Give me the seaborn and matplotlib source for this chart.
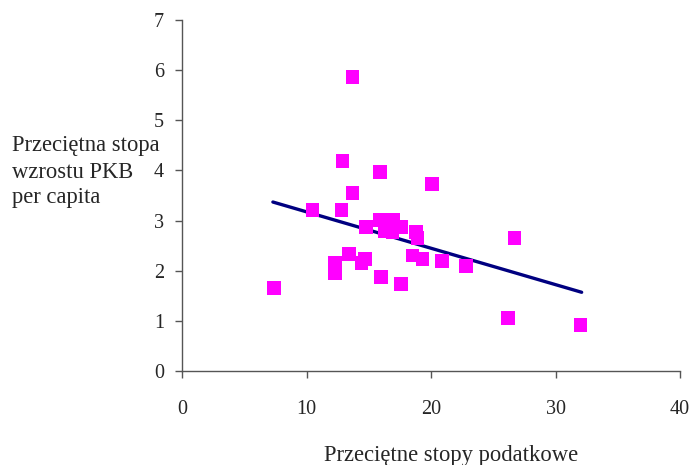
import matplotlib
matplotlib.use("Agg")
import matplotlib.pyplot as plt
import seaborn as sns
import pandas as pd

tax_rate = [7.4, 10.5, 12.8, 12.9, 13.7, 13.7, 15.9, 20.1, 26.7, 26.2, 32.0,
            12.3, 12.3, 13.4, 14.7, 14.4, 16.0, 17.6, 18.5, 19.3, 20.9, 22.8,
            14.8, 15.9, 17.0, 17.6, 16.3, 16.9, 18.8, 18.9]
gdp_growth = [1.66, 3.21, 3.21, 4.19, 3.55, 5.86, 3.97, 3.73, 2.65, 1.06, 0.92,
              2.15, 1.95, 2.33, 2.23, 2.15, 1.87, 1.73, 2.30, 2.23, 2.19, 2.09,
              2.87, 3.01, 3.01, 2.87, 2.79, 2.77, 2.77, 2.65]
trend_x = [7.3, 32.1]
trend_y = [3.37, 1.57]
x_ticks = [0, 10, 20, 30, 40]
y_ticks = [0, 1, 2, 3, 4, 5, 6, 7]
y_label_lines = ["Przeciętna stopa", "wzrostu PKB", "per capita"]

sns.set_style("white")
plt.rcParams['font.family'] = ['Liberation Serif', 'DejaVu Serif']

fig = plt.figure(figsize=(6.93, 4.65), dpi=100)
ax = fig.add_axes([182/693, 1 - 371/465, (680 - 182)/693, (371 - 20)/465])

df = pd.DataFrame({"x": tax_rate, "y": gdp_growth})
tdf = pd.DataFrame({"x": trend_x, "y": trend_y})

sns.lineplot(data=tdf, x="x", y="y", ax=ax, color="#000080", linewidth=2.4, zorder=2)
sns.scatterplot(data=df, x="x", y="y", ax=ax, marker="s", s=95, color="#FF00FF",
                edgecolor="none", linewidth=0, zorder=3)

ax.set_xlim(0, 40)
ax.set_ylim(0, 7)
ax.set_xticks(x_ticks)
ax.set_yticks(y_ticks)
ax.set_xlabel("")
ax.set_ylabel("")
for s in ["top", "right"]:
    ax.spines[s].set_visible(False)
for s in ["left", "bottom"]:
    ax.spines[s].set_color("#555555")
    ax.spines[s].set_linewidth(1.0)
ax.tick_params(axis="x", direction="out", length=5, width=1, color="#555555",
               labelsize=14.5, pad=16, bottom=True)
ax.tick_params(axis="y", direction="out", length=5, width=1, color="#555555",
               labelsize=14.5, pad=8, left=True)

for i, line in enumerate(y_label_lines):
    fig.text(12/693, 1 - (146 + 26 * i)/465, line,
             ha="left", va="center", fontsize=16.3)
fig.text(451/693, 1 - 455/465, "Przeciętne stopy podatkowe",
         ha="center", va="center", fontsize=16.3)

fig.savefig("out.png", dpi=100)
